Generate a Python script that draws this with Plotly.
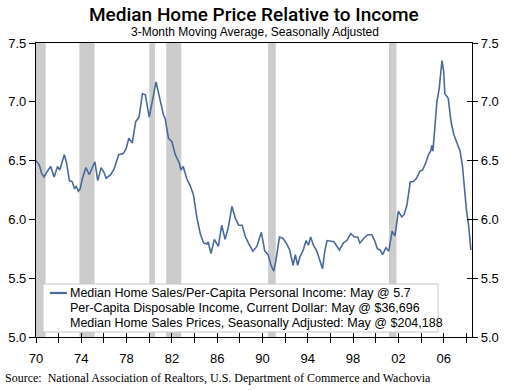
import plotly.graph_objects as go

# ---- data ----
years = [1970.0, 1970.3, 1970.5, 1970.7, 1971.0, 1971.3, 1971.6, 1971.9, 1972.1, 1972.5,
         1972.7, 1972.95, 1973.2, 1973.4, 1973.55, 1973.75, 1973.9, 1974.1, 1974.4, 1974.7,
         1975.2, 1975.45, 1975.75, 1976.0, 1976.2, 1976.6, 1976.9, 1977.3, 1977.7, 1977.95,
         1978.2, 1978.5, 1978.8, 1979.1, 1979.4, 1979.65, 1980.0, 1980.25, 1980.6, 1980.95,
         1981.25, 1981.4, 1981.7, 1982.0, 1982.3, 1982.65, 1982.8, 1983.0, 1983.3, 1983.6,
         1983.9, 1984.2, 1984.5, 1984.8, 1985.1, 1985.2, 1985.45, 1985.75, 1986.1, 1986.4,
         1986.7, 1987.0, 1987.3, 1987.6, 1987.9, 1988.2, 1988.5, 1988.75, 1989.15, 1989.5,
         1989.9, 1990.2, 1990.5, 1990.75, 1991.0, 1991.2, 1991.5, 1991.8, 1992.15, 1992.4,
         1992.7, 1992.9, 1993.1, 1993.3, 1993.6, 1993.85, 1994.05, 1994.25, 1994.5, 1994.8,
         1995.1, 1995.3, 1995.5, 1995.7, 1996.3, 1996.55, 1996.8, 1997.15, 1997.45, 1997.8,
         1998.1, 1998.4, 1998.6, 1998.95, 1999.3, 1999.65, 1999.9, 2000.15, 2000.4, 2000.6,
         2000.9, 2001.15, 2001.45, 2001.7, 2002.0, 2002.3, 2002.5, 2002.75, 2003.05, 2003.3,
         2003.6, 2003.9, 2004.15, 2004.45, 2004.65, 2004.85, 2004.95, 2005.05, 2005.2, 2005.4,
         2005.6, 2005.7, 2005.85, 2006.0, 2006.1, 2006.4, 2006.65, 2006.9, 2007.2, 2007.45,
         2007.65, 2007.8, 2008.0, 2008.2, 2008.4]
ratio = [6.50, 6.46, 6.39, 6.36, 6.41, 6.45, 6.36, 6.45, 6.42, 6.55,
         6.48, 6.33, 6.32, 6.26, 6.28, 6.24, 6.26, 6.35, 6.44, 6.38,
         6.49, 6.33, 6.44, 6.40, 6.35, 6.38, 6.43, 6.55, 6.56, 6.60,
         6.69, 6.65, 6.83, 6.87, 7.07, 7.06, 6.87, 6.99, 7.17, 7.02,
         6.89, 6.86, 6.69, 6.66, 6.55, 6.48, 6.42, 6.45, 6.35, 6.29,
         6.21, 6.02, 5.88, 5.80, 5.79, 5.81, 5.71, 5.83, 5.77, 5.95,
         5.83, 5.94, 6.11, 6.01, 5.95, 5.95, 5.85, 5.80, 5.73, 5.77,
         5.89, 5.73, 5.70, 5.61, 5.56, 5.66, 5.85, 5.84, 5.79, 5.74,
         5.61, 5.70, 5.61, 5.68, 5.74, 5.82, 5.78, 5.85, 5.78, 5.73,
         5.64, 5.58, 5.73, 5.82, 5.81, 5.77, 5.74, 5.80, 5.82, 5.88,
         5.85, 5.85, 5.80, 5.84, 5.87, 5.87, 5.82, 5.75, 5.74, 5.70,
         5.76, 5.73, 5.90, 5.86, 6.07, 6.02, 6.04, 6.12, 6.32, 6.32,
         6.35, 6.41, 6.42, 6.49, 6.55, 6.58, 6.63, 6.58, 6.75, 7.00,
         7.11, 7.24, 7.35, 7.26, 7.07, 7.03, 6.83, 6.72, 6.65, 6.58,
         6.46, 6.29, 6.09, 5.95, 5.74]

recession_start = [1969.92, 1973.83, 1980.0, 1981.5, 1990.5, 2001.17]
recession_end = [1970.85, 1975.17, 1980.5, 1982.83, 1991.17, 2001.83]

tick_years = list(range(1970, 2009, 2))
tick_text = [("%02d" % (y % 100)) if (y - 1970) % 4 == 0 and y <= 2006 else "" for y in tick_years]
y_ticks = [5.0, 5.5, 6.0, 6.5, 7.0, 7.5]

title = "Median Home Price Relative to Income"
subtitle = "3-Month Moving Average, Seasonally Adjusted"
legend_lines = ["Median Home Sales/Per-Capita Personal Income: May @ 5.7",
                "Per-Capita Disposable Income, Current Dollar: May @ $36,696",
                "Median Home Sales Prices, Seasonally Adjusted: May @ $204,188"]
source = "Source:  National Association of Realtors, U.S. Department of Commerce and Wachovia"

LINE_COLOR = "#4A6A9C"
XR = [1970, 2008.5]
YR = [5.0, 7.5]
W, H = 510, 390
ML, MR, MT, MB = 36, 38, 43, 53
PW, PH = W - ML - MR, H - MT - MB

def px_x(p):
    return (p - ML) / PW

def px_y(p):
    return (H - MB - p) / PH

fig = go.Figure()
fig.add_trace(go.Scatter(x=years, y=ratio, mode="lines",
                         line=dict(color=LINE_COLOR, width=1.6),
                         hoverinfo="skip", showlegend=False))
# invisible traces so overlay axes are drawn
fig.add_trace(go.Scatter(x=[XR[0]], y=[YR[0]], xaxis="x2", yaxis="y2", mode="markers",
                         marker=dict(opacity=0), showlegend=False, hoverinfo="skip"))
fig.add_trace(go.Scatter(x=[XR[0]], y=[YR[0]], xaxis="x", yaxis="y3", mode="markers",
                         marker=dict(opacity=0), showlegend=False, hoverinfo="skip"))

shapes = []
for s, e in zip(recession_start, recession_end):
    shapes.append(dict(type="rect", xref="x", yref="paper", x0=max(s, XR[0]), x1=e,
                       y0=0, y1=1, fillcolor="#CCCCCC", line=dict(width=0), layer="below"))

# legend box
shapes.append(dict(type="rect", xref="paper", yref="paper",
                   x0=px_x(43), x1=px_x(438), y0=px_y(332), y1=px_y(284),
                   fillcolor="white", line=dict(color="#C8C8C8", width=1), layer="above"))
shapes.append(dict(type="line", xref="paper", yref="paper",
                   x0=px_x(50), x1=px_x(67), y0=px_y(293), y1=px_y(293),
                   line=dict(color=LINE_COLOR, width=2.2), layer="above"))

annotations = []
for i, t in enumerate(legend_lines):
    annotations.append(dict(text=t, xref="paper", yref="paper", x=px_x(68), y=px_y(293 + 15 * i),
                            xanchor="left", yanchor="middle", showarrow=False,
                            font=dict(family="Liberation Sans, Arial", size=12.5, color="black")))
annotations.append(dict(text=title, xref="paper", yref="paper", x=px_x(254), y=px_y(14),
                        xanchor="center", yanchor="middle", showarrow=False,
                        font=dict(family="Roboto, Liberation Sans, Arial", size=19,
                                  weight=500, color="black")))
annotations.append(dict(text=subtitle, xref="paper", yref="paper", x=px_x(255), y=px_y(32),
                        xanchor="center", yanchor="middle", showarrow=False,
                        font=dict(family="Liberation Sans, Arial", size=12, color="black")))
annotations.append(dict(text=source, xref="paper", yref="paper", x=px_x(3), y=px_y(378),
                        xanchor="left", yanchor="middle", showarrow=False,
                        font=dict(family="Liberation Serif, Times New Roman", size=12, color="black")))

tickfont = dict(family="Liberation Sans, Arial", size=13, color="black")
fig.update_layout(
    width=W, height=H, margin=dict(l=ML, r=MR, t=MT, b=MB, autoexpand=False),
    paper_bgcolor="white", plot_bgcolor="white",
    shapes=shapes, annotations=annotations, showlegend=False,
    xaxis=dict(range=XR, tickvals=tick_years, ticktext=tick_text, ticks="outside",
               ticklen=5, tickcolor="black", tickwidth=1, showgrid=False, zeroline=False,
               showline=True, linecolor="black", linewidth=1.3, mirror=True,
               tickfont=tickfont, ticklabelstandoff=4, automargin=False),
    xaxis2=dict(range=XR, overlaying="x", tickvals=tick_years, ticks="inside", ticklen=4,
                tickcolor="black", showticklabels=False, showgrid=False, zeroline=False,
                showline=False, side="bottom", anchor="y", automargin=False),
    yaxis=dict(range=YR, tickvals=y_ticks, ticktext=["%.1f" % v for v in y_ticks],
               ticks="outside", ticklen=6, tickcolor="black", showgrid=False, zeroline=False,
               showline=True, linecolor="black", linewidth=1.3, tickfont=tickfont,
               automargin=False),
    yaxis2=dict(range=YR, overlaying="y", side="right", anchor="x", tickvals=y_ticks,
                ticktext=["%.1f" % v for v in y_ticks], ticks="outside", ticklen=5,
                tickcolor="black", showgrid=False, zeroline=False, showline=True,
                linecolor="black", linewidth=1.3, tickfont=tickfont, automargin=False),
    yaxis3=dict(range=YR, overlaying="y", side="right", anchor="x", tickvals=y_ticks,
                ticks="inside", ticklen=5, tickcolor="black", showticklabels=False,
                showgrid=False, zeroline=False, showline=False, automargin=False),
)

fig.write_html("out.html", config={"displayModeBar": False},
               post_script="document.body.style.margin='0px';")
